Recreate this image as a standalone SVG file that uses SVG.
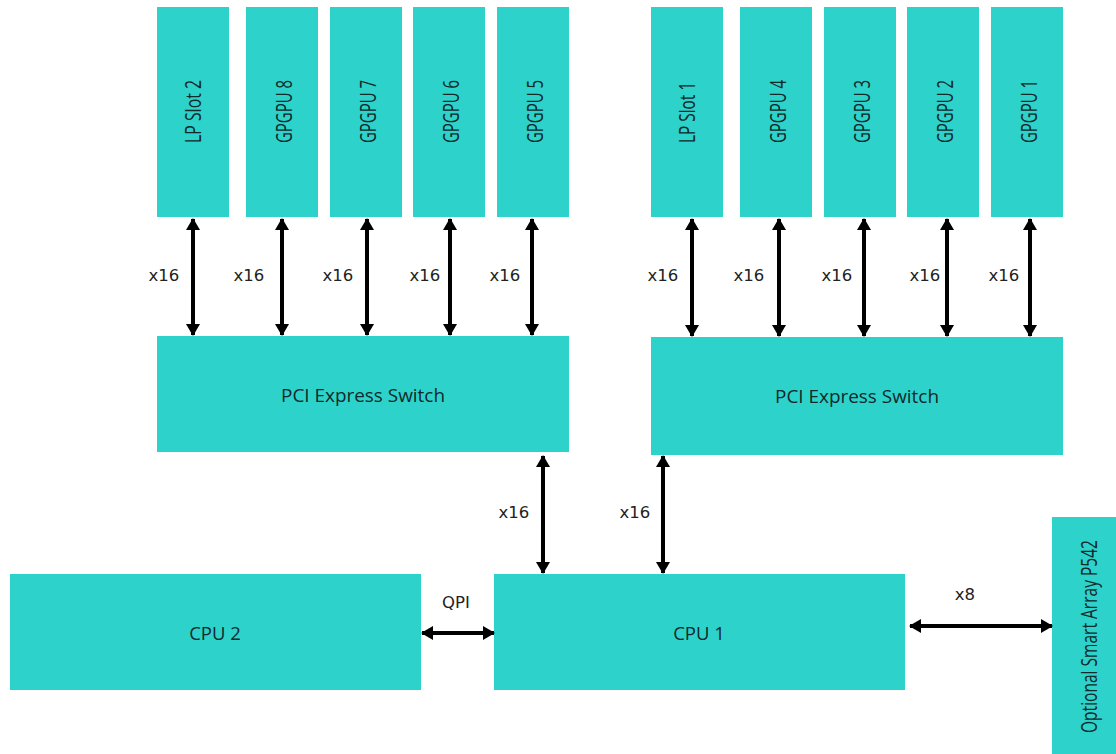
<svg xmlns="http://www.w3.org/2000/svg" width="1116" height="754" viewBox="0 0 1116 754">
<style>
.box{fill:#2dd3cb}
.lbl{font-family:"Open Sans","Liberation Sans",sans-serif;fill:#112a2a}
.vl{font-size:22px}
.hl{font-size:18.5px;text-anchor:middle}
.cl{font-family:"DejaVu Sans",sans-serif;font-size:16.5px;fill:#222;text-anchor:middle}
.ar{stroke:#000;stroke-width:4;fill:none;marker-start:url(#ah);marker-end:url(#ah)}
</style>
<defs>
<marker id="ah" viewBox="0 0 12 14" refX="11" refY="7" markerWidth="12" markerHeight="14" markerUnits="userSpaceOnUse" orient="auto-start-reverse">
<path d="M0,0 L12,7 L0,14 Z" fill="#000"/>
</marker>
</defs>
<rect width="1116" height="754" fill="#fff"/>

<g id="lpslot2"><rect class="box" x="157" y="7" width="72" height="210"/><text class="lbl vl" transform="translate(201,143) rotate(-90)" textLength="63" lengthAdjust="spacingAndGlyphs">LP Slot 2</text></g>
<g id="gpgpu8"><rect class="box" x="246" y="7" width="72" height="210"/><text class="lbl vl" transform="translate(291.5,143) rotate(-90)" textLength="63" lengthAdjust="spacingAndGlyphs">GPGPU 8</text></g>
<g id="gpgpu7"><rect class="box" x="330" y="7" width="72" height="210"/><text class="lbl vl" transform="translate(375.5,143) rotate(-90)" textLength="63" lengthAdjust="spacingAndGlyphs">GPGPU 7</text></g>
<g id="gpgpu6"><rect class="box" x="413" y="7" width="72" height="210"/><text class="lbl vl" transform="translate(458.5,143) rotate(-90)" textLength="63" lengthAdjust="spacingAndGlyphs">GPGPU 6</text></g>
<g id="gpgpu5"><rect class="box" x="497" y="7" width="72" height="210"/><text class="lbl vl" transform="translate(542.5,143) rotate(-90)" textLength="63" lengthAdjust="spacingAndGlyphs">GPGPU 5</text></g>

<g id="lpslot1"><rect class="box" x="651" y="7" width="72" height="210"/><text class="lbl vl" transform="translate(695,143) rotate(-90)" textLength="61" lengthAdjust="spacingAndGlyphs">LP Slot 1</text></g>
<g id="gpgpu4"><rect class="box" x="740" y="7" width="72" height="210"/><text class="lbl vl" transform="translate(785.5,143) rotate(-90)" textLength="63" lengthAdjust="spacingAndGlyphs">GPGPU 4</text></g>
<g id="gpgpu3"><rect class="box" x="824" y="7" width="72" height="210"/><text class="lbl vl" transform="translate(869.5,143) rotate(-90)" textLength="63" lengthAdjust="spacingAndGlyphs">GPGPU 3</text></g>
<g id="gpgpu2"><rect class="box" x="907" y="7" width="72" height="210"/><text class="lbl vl" transform="translate(952.5,143) rotate(-90)" textLength="63" lengthAdjust="spacingAndGlyphs">GPGPU 2</text></g>
<g id="gpgpu1"><rect class="box" x="991" y="7" width="72" height="210"/><text class="lbl vl" transform="translate(1036.5,143) rotate(-90)" textLength="63" lengthAdjust="spacingAndGlyphs">GPGPU 1</text></g>

<g id="switch-left"><rect class="box" x="157" y="336" width="412" height="116"/><text class="lbl hl" x="363" y="402" textLength="164" lengthAdjust="spacingAndGlyphs">PCI Express Switch</text></g>
<g id="switch-right"><rect class="box" x="651" y="337" width="412" height="118"/><text class="lbl hl" x="857" y="402.5" textLength="164" lengthAdjust="spacingAndGlyphs">PCI Express Switch</text></g>

<g id="cpu2"><rect class="box" x="10" y="574" width="411" height="116"/><text class="lbl hl" x="215" y="639.5">CPU 2</text></g>
<g id="cpu1"><rect class="box" x="494" y="574" width="411" height="116"/><text class="lbl hl" x="699" y="639.5">CPU 1</text></g>
<g id="smartarray"><rect class="box" x="1052" y="517" width="64" height="237"/><text class="lbl vl" transform="translate(1097,733) rotate(-90)" textLength="193" lengthAdjust="spacingAndGlyphs">Optional Smart Array P542</text></g>

<g id="connectors">
<line class="ar" x1="193" y1="219" x2="193" y2="335"/>
<line class="ar" x1="282" y1="219" x2="282" y2="335"/>
<line class="ar" x1="367" y1="219" x2="367" y2="335"/>
<line class="ar" x1="450" y1="219" x2="450" y2="335"/>
<line class="ar" x1="532" y1="219" x2="532" y2="335"/>
<line class="ar" x1="692" y1="219" x2="692" y2="336"/>
<line class="ar" x1="779" y1="219" x2="779" y2="336"/>
<line class="ar" x1="864" y1="219" x2="864" y2="336"/>
<line class="ar" x1="947" y1="219" x2="947" y2="336"/>
<line class="ar" x1="1030" y1="219" x2="1030" y2="336"/>
<line class="ar" x1="543" y1="456" x2="543" y2="573"/>
<line class="ar" x1="663" y1="456" x2="663" y2="573"/>
<line class="ar" x1="422" y1="633" x2="494" y2="633"/>
<line class="ar" x1="910" y1="626" x2="1052" y2="626"/>
<text class="cl" x="164" y="281">x16</text>
<text class="cl" x="249" y="281">x16</text>
<text class="cl" x="338" y="281">x16</text>
<text class="cl" x="425" y="281">x16</text>
<text class="cl" x="505" y="281">x16</text>
<text class="cl" x="663" y="281">x16</text>
<text class="cl" x="749" y="281">x16</text>
<text class="cl" x="837" y="281">x16</text>
<text class="cl" x="925" y="281">x16</text>
<text class="cl" x="1004" y="281">x16</text>
<text class="cl" x="514" y="518">x16</text>
<text class="cl" x="635" y="518">x16</text>
<text class="cl" x="456" y="608">QPI</text>
<text class="cl" x="965" y="600">x8</text>
</g>
</svg>
